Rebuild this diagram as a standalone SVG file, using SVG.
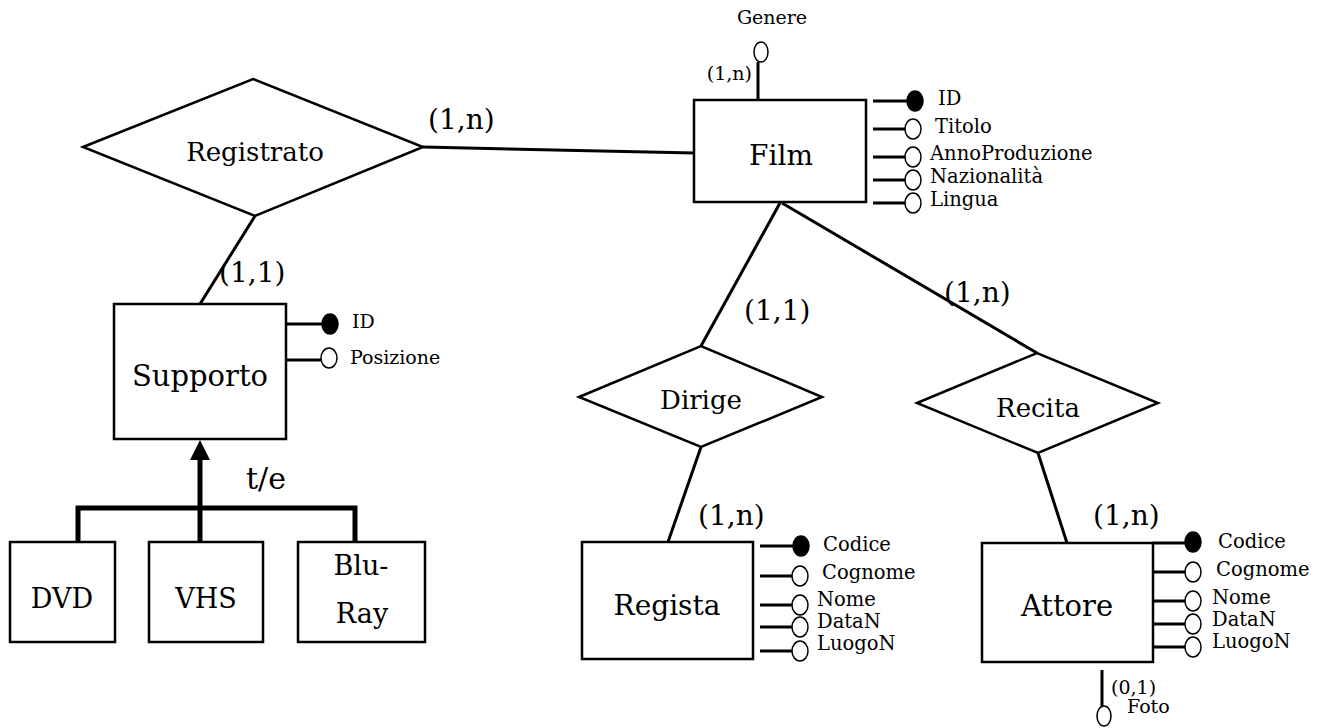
<svg xmlns="http://www.w3.org/2000/svg" width="1323" height="728" viewBox="0 0 1323 728">
<style>
text{font-family:"DejaVu Serif","Liberation Serif",serif;fill:#000;dominant-baseline:central}
.ent{fill:#fff;stroke:#000;stroke-width:2.5}
.rel{fill:#fff;stroke:#000;stroke-width:2.5}
.big{font-size:28px;text-anchor:middle}
.mid{font-size:26px;text-anchor:middle}
.card{font-size:28px}
.attr{font-size:19.5px}
.small{font-size:19px}
.ln{stroke:#000;stroke-width:3;fill:none}
.al{stroke:#000;stroke-width:3;fill:none}
.key{fill:#000;stroke:#000;stroke-width:1.5}
.opt{fill:#fff;stroke:#000;stroke-width:1.5}
.isa{stroke:#000;stroke-width:5;fill:none}
</style>
<rect width="1323" height="728" fill="#fff"/>
<g id="connectors">
<line class="ln" x1="423" y1="147" x2="694" y2="153"/>
<line class="ln" x1="255" y1="216" x2="200" y2="304"/>
<line class="ln" x1="780" y1="203" x2="701" y2="346"/>
<line class="ln" x1="782" y1="203" x2="1037" y2="353"/>
<line class="ln" x1="701" y1="447" x2="668" y2="542"/>
<line class="ln" x1="1038" y1="453" x2="1067" y2="543"/>
<line class="isa" x1="200" y1="541" x2="200" y2="456"/>
<polygon points="200,440 190,460 210,460" fill="#000"/>
<polyline class="isa" points="78,541 78,508 355,508 355,541"/>
<text class="card" x="428" y="119">(1,n)</text>
<text class="card" x="219" y="272">(1,1)</text>
<text class="card" x="744" y="310">(1,1)</text>
<text class="card" x="944" y="292">(1,n)</text>
<text class="card" x="698" y="515">(1,n)</text>
<text class="card" x="1093" y="515">(1,n)</text>
<text class="card" x="266" y="478" text-anchor="middle" style="font-size:30px">t/e</text>
</g>
<g id="Registrato">
<polygon class="rel" points="83,147 253,79 423,147 255,216"/>
<text class="mid" x="255" y="152">Registrato</text>
</g>
<g id="Dirige">
<polygon class="rel" points="579,397 701,346 822,397 701,447"/>
<text class="mid" x="701" y="400">Dirige</text>
</g>
<g id="Recita">
<polygon class="rel" points="917,403 1037,353 1158,403 1038,453"/>
<text class="mid" x="1038" y="408">Recita</text>
</g>
<g id="Film">
<rect class="ent" x="694" y="100" width="172" height="102"/>
<text class="big" x="781" y="155">Film</text>
<line class="al" x1="758" y1="62" x2="758" y2="100"/>
<ellipse class="opt" cx="761" cy="52" rx="7" ry="10"/>
<text class="small" x="772" y="17" text-anchor="middle">Genere</text>
<text class="small" x="752" y="73" text-anchor="end">(1,n)</text>
<line class="al" x1="873" y1="101" x2="908" y2="101"/>
<ellipse class="key" cx="915" cy="101" rx="8" ry="10"/>
<text class="attr" x="938" y="98">ID</text>
<line class="al" x1="873" y1="129" x2="906" y2="129"/>
<ellipse class="opt" cx="913" cy="129" rx="8" ry="10"/>
<text class="attr" x="935" y="126">Titolo</text>
<line class="al" x1="873" y1="157" x2="906" y2="157"/>
<ellipse class="opt" cx="913" cy="157" rx="8" ry="10"/>
<text class="attr" x="930" y="153">AnnoProduzione</text>
<line class="al" x1="873" y1="180" x2="906" y2="180"/>
<ellipse class="opt" cx="913" cy="180" rx="8" ry="10"/>
<text class="attr" x="930" y="176">Nazionalità</text>
<line class="al" x1="873" y1="203" x2="906" y2="203"/>
<ellipse class="opt" cx="913" cy="203" rx="8" ry="10"/>
<text class="attr" x="930" y="199">Lingua</text>
</g>
<g id="Supporto">
<rect class="ent" x="114" y="304" width="172" height="135"/>
<text class="big" x="200" y="376" style="font-size:29px">Supporto</text>
<line class="al" x1="287" y1="324" x2="322" y2="324"/>
<ellipse class="key" cx="330" cy="324" rx="8" ry="10"/>
<text class="small" x="352" y="321">ID</text>
<line class="al" x1="287" y1="360" x2="321" y2="360"/>
<ellipse class="opt" cx="329" cy="358" rx="8" ry="10"/>
<text class="small" x="350" y="357">Posizione</text>
</g>
<g id="DVD">
<rect class="ent" x="10" y="542" width="105" height="100"/>
<text class="big" x="62" y="598" style="font-size:27px">DVD</text>
</g>
<g id="VHS">
<rect class="ent" x="149" y="542" width="114" height="100"/>
<text class="big" x="206" y="598" style="font-size:27px">VHS</text>
</g>
<g id="BluRay">
<rect class="ent" x="298" y="542" width="127" height="100"/>
<text class="big" x="361" y="565" style="font-size:27px">Blu-</text>
<text class="big" x="362" y="613" style="font-size:27px">Ray</text>
</g>
<g id="Regista">
<rect class="ent" x="582" y="542" width="171" height="117"/>
<text class="big" x="667" y="605">Regista</text>
<line class="al" x1="760" y1="546" x2="794" y2="546"/>
<ellipse class="key" cx="801" cy="546" rx="8" ry="10"/>
<text class="attr" x="823" y="544">Codice</text>
<line class="al" x1="760" y1="576" x2="793" y2="576"/>
<ellipse class="opt" cx="800" cy="576" rx="8" ry="10"/>
<text class="attr" x="822" y="572">Cognome</text>
<line class="al" x1="760" y1="605" x2="793" y2="605"/>
<ellipse class="opt" cx="800" cy="605" rx="8" ry="10"/>
<text class="attr" x="817" y="599">Nome</text>
<line class="al" x1="760" y1="627" x2="793" y2="627"/>
<ellipse class="opt" cx="800" cy="627" rx="8" ry="10"/>
<text class="attr" x="817" y="621">DataN</text>
<line class="al" x1="760" y1="651" x2="793" y2="651"/>
<ellipse class="opt" cx="800" cy="651" rx="8" ry="10"/>
<text class="attr" x="817" y="643">LuogoN</text>
</g>
<g id="Attore">
<rect class="ent" x="982" y="543" width="171" height="119"/>
<text class="big" x="1067" y="606" style="font-size:29px">Attore</text>
<line class="al" x1="1153" y1="543" x2="1186" y2="543"/>
<ellipse class="key" cx="1193" cy="542" rx="8" ry="10"/>
<text class="attr" x="1218" y="541">Codice</text>
<line class="al" x1="1153" y1="572" x2="1186" y2="572"/>
<ellipse class="opt" cx="1193" cy="572" rx="8" ry="10"/>
<text class="attr" x="1216" y="569">Cognome</text>
<line class="al" x1="1153" y1="601" x2="1186" y2="601"/>
<ellipse class="opt" cx="1193" cy="601" rx="8" ry="10"/>
<text class="attr" x="1212" y="597">Nome</text>
<line class="al" x1="1153" y1="624" x2="1186" y2="624"/>
<ellipse class="opt" cx="1193" cy="624" rx="8" ry="10"/>
<text class="attr" x="1212" y="619">DataN</text>
<line class="al" x1="1153" y1="647" x2="1186" y2="647"/>
<ellipse class="opt" cx="1193" cy="647" rx="8" ry="10"/>
<text class="attr" x="1212" y="641">LuogoN</text>
<line class="al" x1="1102" y1="670" x2="1102" y2="706"/>
<ellipse class="opt" cx="1104" cy="716" rx="7" ry="10"/>
<text class="small" x="1111" y="687">(0,1)</text>
<text class="small" x="1127" y="706">Foto</text>
</g>
</svg>
